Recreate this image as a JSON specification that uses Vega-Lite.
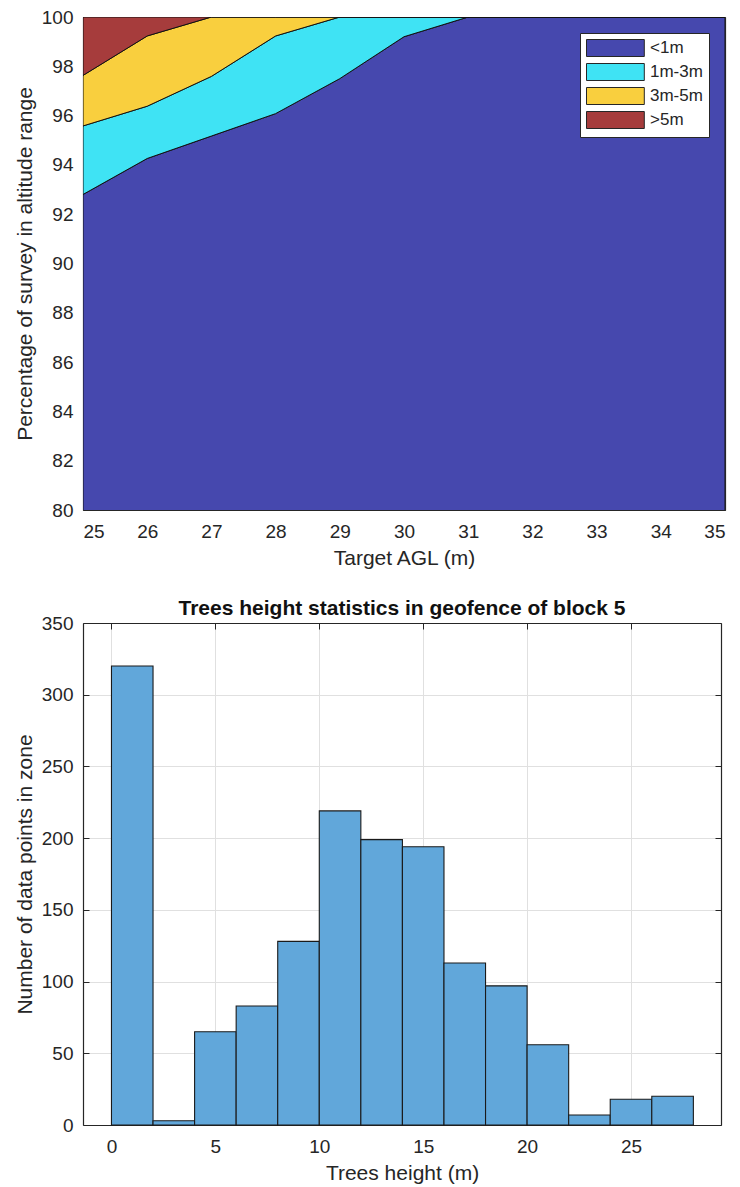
{
  "$schema": "https://vega.github.io/schema/vega-lite/v6.json",
  "padding": {"left": 14, "top": 8, "right": 10, "bottom": 2},
  "spacing": 30,
  "resolve": {"legend": {"color": "independent"}},
  "config": {
    "font": "Liberation Sans",
    "view": {"stroke": null},
    "axis": {
      "labelFont": "Liberation Sans",
      "labelFontSize": 19,
      "labelColor": "#262626",
      "titleFont": "Liberation Sans",
      "titleFontSize": 21,
      "titleFontWeight": "normal",
      "titleColor": "#262626",
      "domainColor": "#262626",
      "domainWidth": 1.2,
      "tickColor": "#262626",
      "tickSize": -6,
      "tickWidth": 1,
      "labelPadding": 16,
      "titlePadding": 6,
      "zindex": 1
    },
    "axisX": {"labelPadding": 18},
    "title": {"font": "Liberation Sans", "fontSize": 21, "fontWeight": "bold", "color": "#111111", "offset": -5},
    "legend": {
      "fillColor": "white",
      "strokeColor": "#262626",
      "padding": 6,
      "cornerRadius": 0,
      "labelFont": "Liberation Sans",
      "labelFontSize": 17,
      "labelColor": "#262626",
      "symbolType": "M-1,-1H5.8V1H-1Z",
      "symbolSize": 289,
      "symbolStrokeColor": "#262626",
      "symbolStrokeWidth": 1,
      "symbolOpacity": 1,
      "labelOffset": 46,
      "rowPadding": 2
    }
  },
  "vconcat": [
    {
      "width": 642,
      "height": 493,
      "data": {
        "values": [
          {"agl": 25, "band": "<1m", "k": 1, "pct": 92.8},
          {"agl": 25, "band": "1m-3m", "k": 2, "pct": 2.78},
          {"agl": 25, "band": "3m-5m", "k": 3, "pct": 2.05},
          {"agl": 25, "band": ">5m", "k": 4, "pct": 2.37},
          {"agl": 26, "band": "<1m", "k": 1, "pct": 94.26},
          {"agl": 26, "band": "1m-3m", "k": 2, "pct": 2.12},
          {"agl": 26, "band": "3m-5m", "k": 3, "pct": 2.85},
          {"agl": 26, "band": ">5m", "k": 4, "pct": 0.77},
          {"agl": 27, "band": "<1m", "k": 1, "pct": 95.17},
          {"agl": 27, "band": "1m-3m", "k": 2, "pct": 2.42},
          {"agl": 27, "band": "3m-5m", "k": 3, "pct": 2.41},
          {"agl": 27, "band": ">5m", "k": 4, "pct": 0},
          {"agl": 28, "band": "<1m", "k": 1, "pct": 96.08},
          {"agl": 28, "band": "1m-3m", "k": 2, "pct": 3.15},
          {"agl": 28, "band": "3m-5m", "k": 3, "pct": 0.77},
          {"agl": 28, "band": ">5m", "k": 4, "pct": 0},
          {"agl": 29, "band": "<1m", "k": 1, "pct": 97.5},
          {"agl": 29, "band": "1m-3m", "k": 2, "pct": 2.5},
          {"agl": 29, "band": "3m-5m", "k": 3, "pct": 0},
          {"agl": 29, "band": ">5m", "k": 4, "pct": 0},
          {"agl": 30, "band": "<1m", "k": 1, "pct": 99.2},
          {"agl": 30, "band": "1m-3m", "k": 2, "pct": 0.8},
          {"agl": 30, "band": "3m-5m", "k": 3, "pct": 0},
          {"agl": 30, "band": ">5m", "k": 4, "pct": 0},
          {"agl": 31, "band": "<1m", "k": 1, "pct": 100},
          {"agl": 31, "band": "1m-3m", "k": 2, "pct": 0},
          {"agl": 31, "band": "3m-5m", "k": 3, "pct": 0},
          {"agl": 31, "band": ">5m", "k": 4, "pct": 0},
          {"agl": 32, "band": "<1m", "k": 1, "pct": 100},
          {"agl": 32, "band": "1m-3m", "k": 2, "pct": 0},
          {"agl": 32, "band": "3m-5m", "k": 3, "pct": 0},
          {"agl": 32, "band": ">5m", "k": 4, "pct": 0},
          {"agl": 33, "band": "<1m", "k": 1, "pct": 100},
          {"agl": 33, "band": "1m-3m", "k": 2, "pct": 0},
          {"agl": 33, "band": "3m-5m", "k": 3, "pct": 0},
          {"agl": 33, "band": ">5m", "k": 4, "pct": 0},
          {"agl": 34, "band": "<1m", "k": 1, "pct": 100},
          {"agl": 34, "band": "1m-3m", "k": 2, "pct": 0},
          {"agl": 34, "band": "3m-5m", "k": 3, "pct": 0},
          {"agl": 34, "band": ">5m", "k": 4, "pct": 0},
          {"agl": 35, "band": "<1m", "k": 1, "pct": 100},
          {"agl": 35, "band": "1m-3m", "k": 2, "pct": 0},
          {"agl": 35, "band": "3m-5m", "k": 3, "pct": 0},
          {"agl": 35, "band": ">5m", "k": 4, "pct": 0}
        ]
      },
      "layer": [
        {
          "mark": {"type": "area", "clip": true, "stroke": "#111111", "strokeWidth": 1, "opacity": 1},
          "encoding": {
            "x": {
              "field": "agl", "type": "quantitative",
              "scale": {"domain": [25, 35], "nice": false, "zero": false},
              "axis": {"title": "Target AGL (m)", "values": [25, 26, 27, 28, 29, 30, 31, 32, 33, 34, 35], "grid": false}
            },
            "y": {
              "field": "pct", "type": "quantitative", "stack": "zero",
              "scale": {"domain": [80, 100], "nice": false, "zero": false},
              "axis": {"title": "Percentage of survey in altitude range", "values": [80, 82, 84, 86, 88, 90, 92, 94, 96, 98, 100], "grid": false}
            },
            "color": {
              "field": "band", "type": "nominal",
              "scale": {"domain": ["<1m", "1m-3m", "3m-5m", ">5m"], "range": ["#4648ae", "#3fe3f4", "#f9cf3e", "#a63c3c"]},
              "legend": {"title": null, "orient": "none", "legendX": 497, "legendY": 16}
            },
            "order": {"field": "k", "type": "quantitative"}
          }
        },
        {
          "mark": {"type": "point", "opacity": 0, "clip": true},
          "encoding": {
            "x": {"field": "agl", "type": "quantitative", "axis": {"orient": "top", "labels": false, "title": null, "minExtent": 0, "maxExtent": 0, "values": [25, 26, 27, 28, 29, 30, 31, 32, 33, 34, 35], "grid": false}},
            "y": {"field": "pct", "type": "quantitative", "axis": {"orient": "right", "labels": false, "title": null, "minExtent": 0, "maxExtent": 0, "values": [80, 82, 84, 86, 88, 90, 92, 94, 96, 98, 100], "grid": false}}
          }
        }
      ],
      "resolve": {"axis": {"x": "independent", "y": "independent"}}
    },
    {
      "width": 638,
      "height": 502,
      "title": "Trees height statistics in geofence of block 5",
      "data": {
        "values": [
          {"lo": 0, "hi": 2, "n": 320},
          {"lo": 2, "hi": 4, "n": 3},
          {"lo": 4, "hi": 6, "n": 65},
          {"lo": 6, "hi": 8, "n": 83},
          {"lo": 8, "hi": 10, "n": 128},
          {"lo": 10, "hi": 12, "n": 219},
          {"lo": 12, "hi": 14, "n": 199},
          {"lo": 14, "hi": 16, "n": 194},
          {"lo": 16, "hi": 18, "n": 113},
          {"lo": 18, "hi": 20, "n": 97},
          {"lo": 20, "hi": 22, "n": 56},
          {"lo": 22, "hi": 24, "n": 7},
          {"lo": 24, "hi": 26, "n": 18},
          {"lo": 26, "hi": 28, "n": 20}
        ]
      },
      "layer": [
        {
          "mark": {"type": "rect", "fill": "#61a7da", "stroke": "#1a1a1a", "strokeWidth": 1.1, "opacity": 1},
          "encoding": {
            "x": {
              "field": "lo", "type": "quantitative",
              "scale": {"domain": [-1.37, 29.33], "nice": false, "zero": false},
              "axis": {"title": "Trees height (m)", "values": [0, 5, 10, 15, 20, 25], "grid": true, "gridColor": "#e0e0e0"}
            },
            "x2": {"field": "hi"},
            "y": {
              "field": "n", "type": "quantitative",
              "scale": {"domain": [0, 350], "nice": false},
              "axis": {"title": "Number of data points in zone", "values": [0, 50, 100, 150, 200, 250, 300, 350], "grid": true, "gridColor": "#e0e0e0"}
            },
            "y2": {"datum": 0}
          }
        },
        {
          "mark": {"type": "point", "opacity": 0, "clip": true},
          "encoding": {
            "x": {"field": "lo", "type": "quantitative", "axis": {"orient": "top", "labels": false, "title": null, "minExtent": 0, "maxExtent": 0, "values": [0, 5, 10, 15, 20, 25], "grid": false}},
            "y": {"field": "n", "type": "quantitative", "axis": {"orient": "right", "labels": false, "title": null, "minExtent": 0, "maxExtent": 0, "values": [0, 50, 100, 150, 200, 250, 300, 350], "grid": false}}
          }
        }
      ],
      "resolve": {"axis": {"x": "independent", "y": "independent"}}
    }
  ]
}
